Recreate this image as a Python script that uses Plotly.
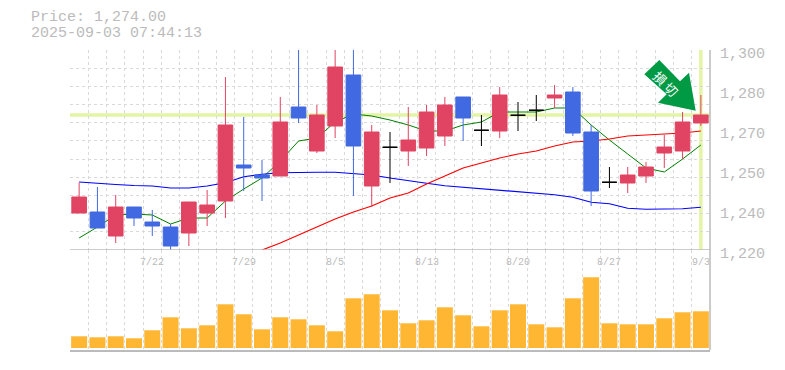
import plotly.graph_objects as go

dates = ["7/15","7/16","7/17","7/18","7/22","7/23","7/24","7/25","7/28","7/29","7/30","7/31","8/1","8/4","8/5",
         "8/6","8/7","8/8","8/12","8/13","8/14","8/15","8/18","8/19","8/20","8/21","8/22","8/25","8/26","8/27",
         "8/28","8/29","9/1","9/2","9/3"]
opens = [1234.8,1235.2,1225.6,1237.2,1231.2,1229.2,1226.8,1234.8,1239.6,1254,1250,1249.6,1277.2,1259.6,1269.6,
         1290,1245.6,1261.1,1259.6,1260.8,1265.6,1281.2,1267.9,1267.6,1273.9,1275.9,1280.8,1283.2,1267.2,1247.1,
         1246.8,1249.6,1258.8,1259.6,1270.8]
closes = [1241.2,1228.8,1237.2,1232.8,1229.6,1221.6,1239.2,1238,1270,1252.8,1248.8,1271.2,1272.8,1274,1293.2,
          1261.6,1267.2,1261.1,1264,1275.2,1278,1272.8,1267.9,1282,1273.9,1275.9,1282,1266.8,1243.6,1247.1,
          1250,1253.2,1261.2,1271.2,1274]
highs = [1247,1245.2,1242,1237.2,1236,1230.4,1239.2,1244,1289.2,1273.2,1256,1281.2,1300,1278,1300,
         1300,1270,1267.2,1277.2,1278,1281.2,1281.2,1274,1285.2,1279.2,1282,1286,1285.2,1270,1253.2,
         1253.2,1255.2,1266,1275.2,1282]
lows = [1234.8,1228.8,1222.8,1229.6,1225.6,1220,1221.6,1229.6,1232.8,1243.6,1239.6,1249.6,1270.8,1258.8,1264.8,
        1241.6,1237.2,1246.8,1253.6,1257.6,1261.6,1263.6,1261.6,1264.8,1267.6,1271.6,1276.8,1265.6,1237.6,1244.8,
        1242.8,1246.8,1252.8,1256.4,1269.6]
ma_green = [1224.8,1229.2,1234,1234.4,1234,1230.4,1232.8,1232.8,1239.6,1244.4,1248.8,1255.6,1263.6,1264.8,1271.2,
            1274.4,1273.6,1272,1270,1267.6,1267.6,1270,1271.2,1275.2,1275.2,1275.2,1276.8,1276.8,1270,1264,
            1258.4,1252.8,1251.2,1256.4,1262]
ma_blue = [1247.2,1246.6,1246.2,1245.8,1245.6,1244.8,1244.8,1245.6,1246.9,1249.3,1250.3,1250.9,1251.1,1251.1,1251.1,
           1250.7,1250,1248.8,1247.6,1246.7,1245.7,1245.1,1244.3,1243.7,1243.2,1242.8,1242.1,1241.1,1239.1,1238.5,
           1236.7,1236.3,1236.3,1236.5,1237.1]
ma_red = [None]*10 + [1220,1222.8,1226,1229.2,1232.4,1235.2,1237.6,1240.8,1242.8,1246.4,1249.6,1252.8,1254.8,1256.8,1258.4,
                      1259.6,1261.6,1263.2,1263.6,1264.4,1265.6,1266,1266.4,1266.8,1267.6]
volumes = [11.7,10.7,11.7,9.7,17.7,30.7,19.7,22.7,43.7,33.7,18.7,30.7,28.7,22.7,16.7,
           49.7,53.7,37.7,24.7,27.7,40.7,32.7,21.7,37.7,43.7,23.7,20.7,49.7,70.7,24.7,
           23.7,23.7,29.7,35.7,36.7]
price_ticks = [1300,1284,1268,1252,1236,1220]
price_labels = ["1,300","1,280","1,270","1,250","1,240","1,220"]
date_label_idx = [4,9,14,19,24,29,34]
current_price = 1274
title_lines = ["Price: 1,274.00","2025-09-03 07:44:13"]
arrow_text = "損 切"

W, H = 785, 370
L, R, T, B = 70, 710, 50, 350
MONO = "Liberation Mono"
GREY = "#bbbbbb"
GRID = "#d9d9d9"
n = len(dates)
xs = list(range(n))
xr = [-0.5, n-0.5]
yr = [1220, 1300]
dash = "3px,3px"

def paper(x, y):
    return (x-L)/(R-L), (B-y)/(B-T)

def data(x, y):
    return xr[0]+(x-L)/(R-L)*(xr[1]-xr[0]), yr[1]-(y-T)/200*(yr[1]-yr[0])

fig = go.Figure()
for vals, c, w in [(ma_green, "#008000", 1), (ma_blue, "#0000ff", 1.2), (ma_red, "#ff0000", 1.2)]:
    fig.add_trace(go.Scatter(x=xs, y=vals, mode="lines", line=dict(color=c, width=w), xaxis="x", yaxis="y",
                             hoverinfo="skip", showlegend=False))
body = [i for i in xs if opens[i] != closes[i]]
doji = [i for i in xs if opens[i] == closes[i]]
fig.add_trace(go.Candlestick(x=body, open=[opens[i] for i in body], high=[highs[i] for i in body],
                             low=[lows[i] for i in body], close=[closes[i] for i in body],
                             increasing=dict(line=dict(color="#e04462", width=1), fillcolor="#e04462"),
                             decreasing=dict(line=dict(color="#4169e1", width=1), fillcolor="#4169e1"),
                             xaxis="x3", yaxis="y3", showlegend=False))
fig.add_trace(go.Candlestick(x=doji, open=[opens[i] for i in doji], high=[highs[i] for i in doji],
                             low=[lows[i] for i in doji], close=[closes[i] for i in doji],
                             increasing=dict(line=dict(color="#000000", width=1), fillcolor="#000000"),
                             decreasing=dict(line=dict(color="#000000", width=1), fillcolor="#000000"),
                             xaxis="x3", yaxis="y3", showlegend=False))
fig.add_trace(go.Bar(x=xs, y=volumes, marker=dict(color="#ffb733", line=dict(width=0)), xaxis="x2", yaxis="y2",
                     showlegend=False))

pts = [(659.3,60),(644.3,74.3),(666.7,94.3),(658,102.7),(695.7,110.7),(689,72.7),(680,81.3),(659.3,60)]
ax = [data(a,b)[0] for a,b in pts]
ay = [data(a,b)[1] for a,b in pts]
fig.add_trace(go.Scatter(x=ax, y=ay, mode="lines", fill="toself", fillcolor="#009a44", line=dict(width=0),
                         xaxis="x3", yaxis="y3", hoverinfo="skip", showlegend=False))

shapes = [
    dict(type="line", xref="x", yref="y", x0=xr[0], x1=xr[1], y0=current_price, y1=current_price,
         line=dict(color="#e3f5a4", width=3.5), layer="below"),
    dict(type="line", xref="x", yref="y", x0=n-1, x1=n-1, y0=yr[0], y1=yr[1],
         line=dict(color="#e3f5a4", width=3.5), layer="below"),
    dict(type="line", xref="paper", yref="y", x0=0, x1=1, y0=yr[0], y1=yr[0], line=dict(color=GREY, width=1.5)),
    dict(type="line", xref="paper", yref="paper", x0=1, x1=1, y0=0, y1=1, line=dict(color=GREY, width=1.5)),
]

u,v = paper(666,83)
annotations = [
    dict(text=title_lines[0], xref="paper", yref="paper", x=paper(30,0)[0], y=paper(0,18)[1], xanchor="left", yanchor="middle",
         showarrow=False, font=dict(family=MONO, size=15, color=GREY), borderpad=0),
    dict(text=title_lines[1], xref="paper", yref="paper", x=paper(30,0)[0], y=paper(0,33)[1], xanchor="left", yanchor="middle",
         showarrow=False, font=dict(family=MONO, size=15, color=GREY), borderpad=0),
]
for i in date_label_idx:
    annotations.append(dict(text=dates[i], xref="x", yref="paper", x=i, y=paper(0,262)[1], yanchor="middle",
                            showarrow=False, font=dict(family=MONO, size=10, color=GREY), borderpad=0))
for val, lab in zip(price_ticks, price_labels):
    annotations.append(dict(text=lab, xref="paper", yref="y", x=1, xshift=9, y=val, yshift=-4, xanchor="left", yanchor="middle",
                            showarrow=False, font=dict(family=MONO, size=15, color=GREY), borderpad=0))
annotations.append(dict(text=arrow_text, xref="paper", yref="paper", x=u, y=v, xanchor="center", yanchor="middle", textangle=45,
                        showarrow=False, font=dict(family="Noto Sans CJK JP", size=13, color="#ffffff")))
fig.update_layout(
    width=W, height=H, margin=dict(l=L, r=W-R, t=T, b=H-B),
    paper_bgcolor="#ffffff", plot_bgcolor="#ffffff", showlegend=False,
    boxgap=0.2, boxgroupgap=0, bargap=0.125, shapes=shapes, annotations=annotations,
    xaxis=dict(domain=[0,1], range=xr, tick0=-0.5, dtick=1, showticklabels=False, showgrid=True, gridcolor=GRID,
               griddash=dash, gridwidth=1, zeroline=False, anchor="y", ticks=""),
    yaxis=dict(domain=[0.3333,1], range=yr, tick0=1220, dtick=80/11, showticklabels=False, showgrid=True, gridcolor=GRID,
               griddash=dash, gridwidth=1, zeroline=False, anchor="x", ticks=""),
    xaxis3=dict(overlaying="x", matches="x", range=xr, visible=False, anchor="y3", rangeslider=dict(visible=False)),
    yaxis3=dict(overlaying="y", range=yr, visible=False, anchor="x3"),
    xaxis2=dict(domain=[0,1], range=xr, tickmode="array", tickvals=[-0.5+i for i in range(n+1)], showticklabels=False,
                showgrid=True, gridcolor=GRID, griddash=dash, gridwidth=1, zeroline=False, anchor="y2",
                showline=True, linecolor=GREY, linewidth=1.5, ticks=""),
    yaxis2=dict(domain=[0,0.3333], range=[-2,98], visible=False, anchor="x2"),
    font=dict(family=MONO),
)
fig.write_html("out.html", post_script="document.body.style.margin='0';", config=dict(displayModeBar=False))
